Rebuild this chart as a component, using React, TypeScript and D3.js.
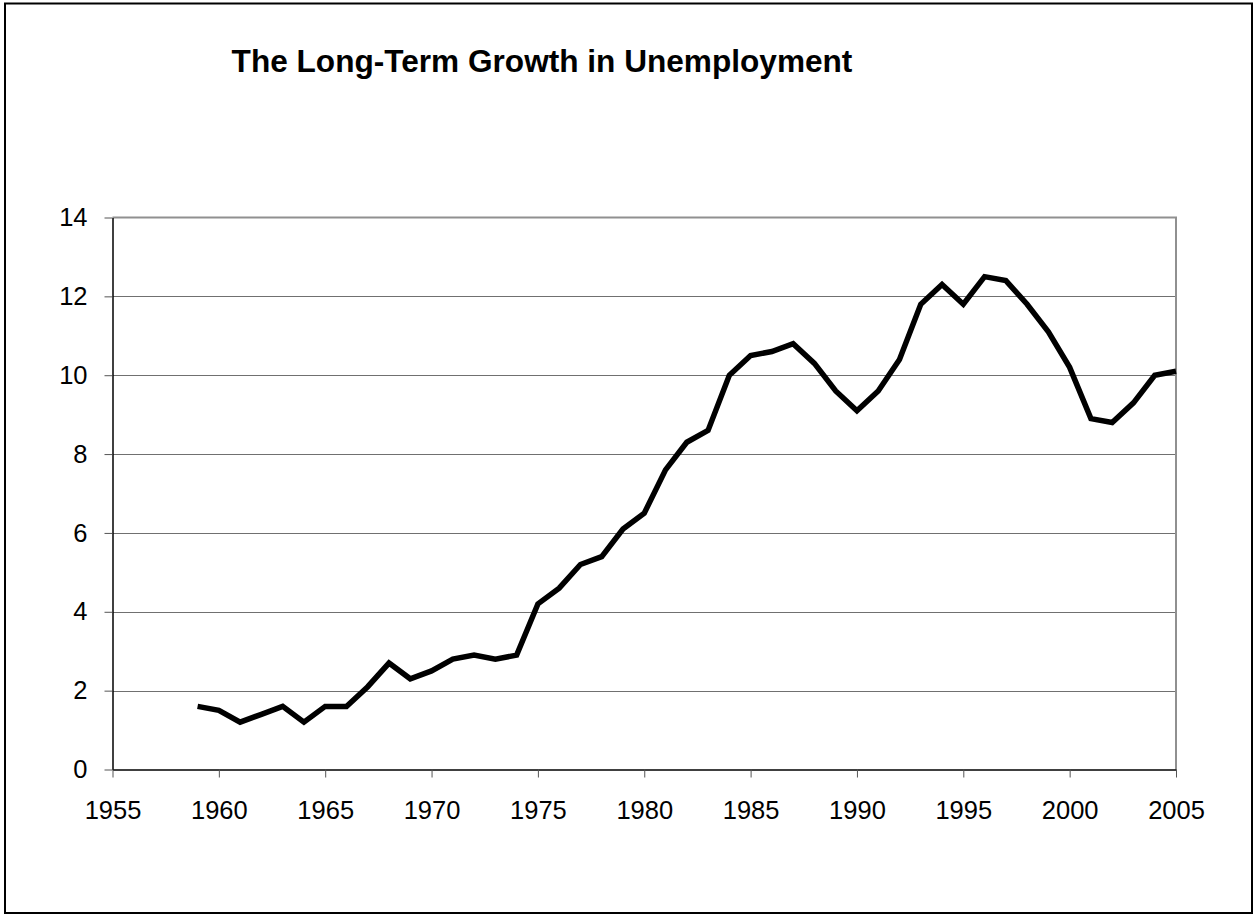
import React, { useEffect, useRef } from 'react';
import * as d3 from 'd3';

// Long-term unemployment share (%), 1959-2005
const years = [
  1959, 1960, 1961, 1962, 1963, 1964, 1965, 1966, 1967, 1968, 1969, 1970,
  1971, 1972, 1973, 1974, 1975, 1976, 1977, 1978, 1979, 1980, 1981, 1982,
  1983, 1984, 1985, 1986, 1987, 1988, 1989, 1990, 1991, 1992, 1993, 1994,
  1995, 1996, 1997, 1998, 1999, 2000, 2001, 2002, 2003, 2004, 2005,
];
const values = [
  1.6, 1.5, 1.2, 1.4, 1.6, 1.2, 1.6, 1.6, 2.1, 2.7, 2.3, 2.5,
  2.8, 2.9, 2.8, 2.9, 4.2, 4.6, 5.2, 5.4, 6.1, 6.5, 7.6, 8.3,
  8.6, 10.0, 10.5, 10.6, 10.8, 10.3, 9.6, 9.1, 9.6, 10.4, 11.8, 12.3,
  11.8, 12.5, 12.4, 11.8, 11.1, 10.2, 8.9, 8.8, 9.3, 10.0, 10.1,
];
const xTicks = [1955, 1960, 1965, 1970, 1975, 1980, 1985, 1990, 1995, 2000, 2005];
const yTicks = [0, 2, 4, 6, 8, 10, 12, 14];
const title = 'The Long-Term Growth in Unemployment';

const W = 1255;
const H = 916;
const FONT = '"Liberation Sans", Arial, sans-serif';

export default function App() {
  const ref = useRef<SVGSVGElement>(null);

  useEffect(() => {
    if (!ref.current) return;
    const svg = d3.select(ref.current);
    svg.selectAll('*').remove();

    const plot = { left: 112.5, right: 1176, top: 217.5, bottom: 769.5 };

    // ------- outer frame -------
    svg.append('rect')
      .attr('x', 5).attr('y', 3.5)
      .attr('width', 1247).attr('height', 909.5)
      .attr('fill', 'white')
      .attr('stroke', '#000')
      .attr('stroke-width', 2);

    // ------- title -------
    svg.append('text')
      .attr('x', 542).attr('y', 72)
      .attr('text-anchor', 'middle')
      .attr('font-family', FONT)
      .attr('font-weight', 'bold')
      .attr('font-size', 31.6)
      .text(title);

    // ------- scales -------
    const x = d3.scaleLinear().domain([1955, 2005]).range([plot.left, plot.right]);
    const y = d3.scaleLinear().domain([0, 14]).range([plot.bottom, plot.top]);

    // ------- gridlines -------
    svg.append('g')
      .selectAll('line')
      .data(yTicks.filter((t) => t > 0 && t < 14))
      .enter()
      .append('line')
      .attr('x1', plot.left).attr('x2', plot.right)
      .attr('y1', (d) => Math.round(y(d)) + 0.5)
      .attr('y2', (d) => Math.round(y(d)) + 0.5)
      .attr('stroke', '#707070')
      .attr('stroke-width', 1);

    // top and right plot border
    svg.append('path')
      .attr('d', `M${plot.left},${plot.top}H${plot.right}V${plot.bottom}`)
      .attr('fill', 'none')
      .attr('stroke', '#909090')
      .attr('stroke-width', 2);

    // ------- axes -------
    const yAxis = svg.append('g')
      .attr('transform', `translate(${plot.left},0)`)
      .call(d3.axisLeft(y).tickValues(yTicks).tickSize(8).tickSizeOuter(0).tickPadding(17));

    const xAxis = svg.append('g')
      .attr('transform', `translate(0,${plot.bottom})`)
      .call(d3.axisBottom(x).tickValues(xTicks).tickFormat(d3.format('d')).tickSize(8).tickSizeOuter(0).tickPadding(23));

    [yAxis, xAxis].forEach((g) => {
      g.select('.domain').attr('stroke', '#000').attr('stroke-width', 1.5);
      g.selectAll('.tick line').attr('stroke', '#555').attr('stroke-width', 1);
      g.selectAll('.tick text')
        .attr('font-family', FONT)
        .attr('font-size', 25.5)
        .attr('fill', '#000');
    });

    // ------- series line -------
    const line = d3.line<number>()
      .x((_, i) => x(years[i]))
      .y((d) => y(d));

    svg.append('path')
      .datum(values)
      .attr('fill', 'none')
      .attr('stroke', '#000')
      .attr('stroke-width', 5.5)
      .attr('stroke-linejoin', 'miter')
      .attr('d', line);
  }, []);

  return (
    <svg
      ref={ref}
      width={W}
      height={H}
      style={{ position: 'absolute', left: 0, top: 0, background: 'white' }}
    />
  );
}
